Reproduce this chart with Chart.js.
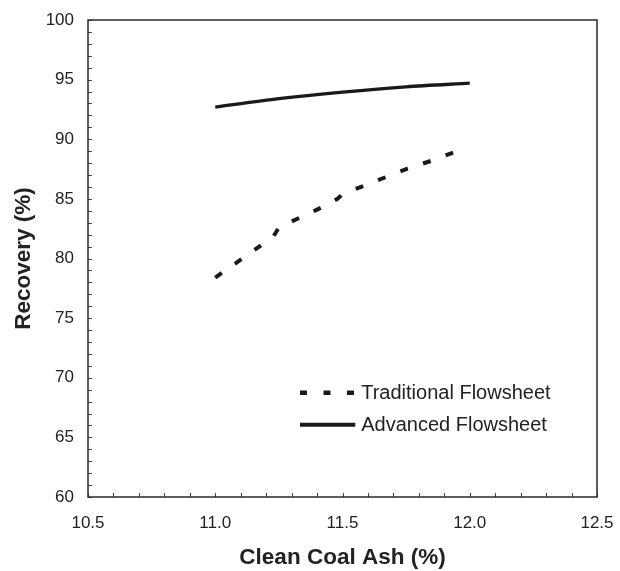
<!DOCTYPE html>
<html>
<head>
<meta charset="utf-8">
<script src="https://cdn.jsdelivr.net/npm/chart.js@4.4.0/dist/chart.umd.min.js"></script>
<style>
html,body{margin:0;padding:0;background:#fff;}
#wrap{width:620px;height:571px;position:relative;}
</style>
</head>
<body>
<div id="wrap"><canvas id="c" width="620" height="571"></canvas></div>
<script>
const xTitle = 'Clean Coal Ash (%)';
const yTitle = 'Recovery (%)';
const seriesNames = ['Traditional Flowsheet', 'Advanced Flowsheet'];
const traditionalX = [11.0, 11.08, 11.16, 11.23, 11.25, 11.40, 11.48, 11.50, 11.62, 11.75, 11.85, 11.95];
const traditionalY = [78.4, 79.6, 80.8, 81.9, 82.6, 84.1, 85.0, 85.4, 86.4, 87.5, 88.2, 89.0];
const advancedX = [11.0, 11.25, 11.5, 11.75, 12.0];
const advancedY = [92.7, 93.4, 93.95, 94.4, 94.7];
const xTicks = [10.5, 11.0, 11.5, 12.0, 12.5];
const yTicks = [60, 65, 70, 75, 80, 85, 90, 95, 100];
const legendY = [68.75, 66.05];
const legendX = [11.333, 11.55];

const toPts = (xs, ys) => xs.map((x, i) => ({x: x, y: ys[i]}));
const FONT = '"Liberation Sans", Arial, sans-serif';

const minorTicks = {
  id: 'minorTicks',
  afterDatasetsDraw(chart) {
    const ctx = chart.ctx, a = chart.chartArea;
    const xs = chart.scales.x, ys = chart.scales.y;
    ctx.save();
    ctx.strokeStyle = '#444';
    ctx.lineWidth = 1;
    ctx.beginPath();
    for (let i = 0; i <= 20; i++) {
      const v = 10.5 + i * 0.1;
      const p = Math.round(xs.getPixelForValue(v)) + 0.5;
      ctx.moveTo(p, a.bottom); ctx.lineTo(p, a.bottom - 4);
    }
    for (let v = 60; v <= 100; v += 1) {
      const p = Math.round(ys.getPixelForValue(v)) + 0.5;
      ctx.moveTo(a.left, p); ctx.lineTo(a.left + 4, p);
    }
    ctx.stroke();
    ctx.lineWidth = 1.5;
    ctx.strokeStyle = '#2a2a2a';
    ctx.strokeRect(a.left, a.top, a.right - a.left, a.bottom - a.top);
    ctx.restore();
  }
};

const customLegend = {
  id: 'customLegend',
  afterDraw(chart) {
    const ctx = chart.ctx;
    const xs = chart.scales.x, ys = chart.scales.y;
    ctx.save();
    ctx.font = '20px ' + FONT;
    ctx.fillStyle = '#222';
    ctx.textBaseline = 'middle';
    const styles = [
      {dash: [7, 16.5], width: 4.5},
      {dash: [], width: 4}
    ];
    const x0 = xs.getPixelForValue(legendX[0]), x1 = xs.getPixelForValue(legendX[1]);
    seriesNames.forEach((name, i) => {
      const y = ys.getPixelForValue(legendY[i]);
      const s = styles[i];
      ctx.beginPath();
      ctx.setLineDash(s.dash);
      ctx.lineWidth = s.width;
      ctx.strokeStyle = '#1a1a1a';
      ctx.moveTo(x0, y); ctx.lineTo(x1, y);
      ctx.stroke();
      ctx.setLineDash([]);
      ctx.fillText(name, x1 + 6, y + 1);
    });
    ctx.restore();
  }
};

new Chart(document.getElementById('c'), {
  type: 'scatter',
  data: {
    datasets: [
      {label: seriesNames[0], data: toPts(traditionalX, traditionalY), showLine: true,
       borderColor: '#1a1a1a', borderWidth: 4, borderDash: [8, 16], pointRadius: 0, tension: 0},
      {label: seriesNames[1], data: toPts(advancedX, advancedY), showLine: true,
       borderColor: '#1a1a1a', borderWidth: 3.3, pointRadius: 0, tension: 0.3}
    ]
  },
  options: {
    responsive: false,
    animation: false,
    layout: {padding: {top: 20, right: 23, left: 0, bottom: 0}},
    plugins: {legend: {display: false}, tooltip: {enabled: false}},
    scales: {
      x: {
        type: 'linear', min: 10.5, max: 12.5,
        afterBuildTicks: s => { s.ticks = xTicks.map(v => ({value: v})); },
        afterFit: s => { s.height = 74; s.paddingLeft = 0; s.paddingRight = 0; },
        grid: {display: false, drawTicks: false},
        border: {display: false},
        ticks: {color: '#222', padding: 16, maxRotation: 0,
                font: {family: FONT, size: 17},
                callback: v => v.toFixed(1)},
        title: {display: true, text: xTitle, color: '#222', padding: {top: 0, bottom: 0},
                font: {family: FONT, size: 22.5, weight: 'bold'}}
      },
      y: {
        type: 'linear', min: 60, max: 100,
        afterBuildTicks: s => { s.ticks = yTicks.map(v => ({value: v})); },
        afterFit: s => { s.width = 88; s.paddingTop = 0; s.paddingBottom = 0; },
        grid: {display: false, drawTicks: false},
        border: {display: false},
        ticks: {color: '#222', padding: 14,
                font: {family: FONT, size: 17}},
        title: {display: true, text: yTitle, color: '#222', padding: {top: 10, bottom: 0},
                font: {family: FONT, size: 22.5, weight: 'bold'}}
      }
    }
  },
  plugins: [minorTicks, customLegend]
});
</script>
</body>
</html>
